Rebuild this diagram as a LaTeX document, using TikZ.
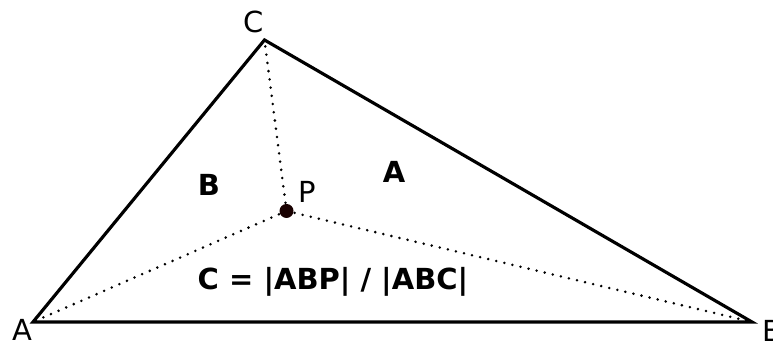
\documentclass[tikz,border=0pt]{standalone}
\usepackage{fontspec}
\setmainfont{DejaVu Sans}
\usetikzlibrary{positioning}

\begin{document}
\begin{tikzpicture}[
    every node/.style={font=\fontsize{8.25}{10}\selectfont,inner sep=0pt,anchor=base},
    edge/.style={line width=0.9pt},
    cevian/.style={line width=0.8pt,line cap=round,dash pattern=on 0pt off 2.36pt},
    region/.style={font=\fontsize{8.25}{10}\selectfont\bfseries}
]
\useasboundingbox (0,0) rectangle (7.73,3.42);

% Vertices and inner point
\coordinate (A) at (0.33,0.20);
\coordinate (B) at (7.52,0.20);
\coordinate (C) at (2.645,3.02);
\coordinate (P) at (2.865,1.31);

% Triangle
\draw[edge] (A) -- (B) -- (C) -- cycle;

% Lines from P to the vertices
\draw[cevian] (P) -- (A);
\draw[cevian] (P) -- (B);
\draw[cevian] (P) -- (C);
\fill[black!90!red] (P) circle (0.07);

% Vertex labels
\node (labA) at (0.225,0.01) {A};
\node (labB) at (7.72,0.005) {B};
\node (labC) at (2.54,3.09) {C};
\node (labP) at (3.075,1.39) {P};

% Area labels
\node[region] (areaB) at (2.09,1.46) {B};
\node[region] (areaA) at (3.94,1.59) {A};
\node[region] (areaC) at (3.33,0.52) {C = |ABP| / |ABC|};

\end{tikzpicture}
\end{document}
